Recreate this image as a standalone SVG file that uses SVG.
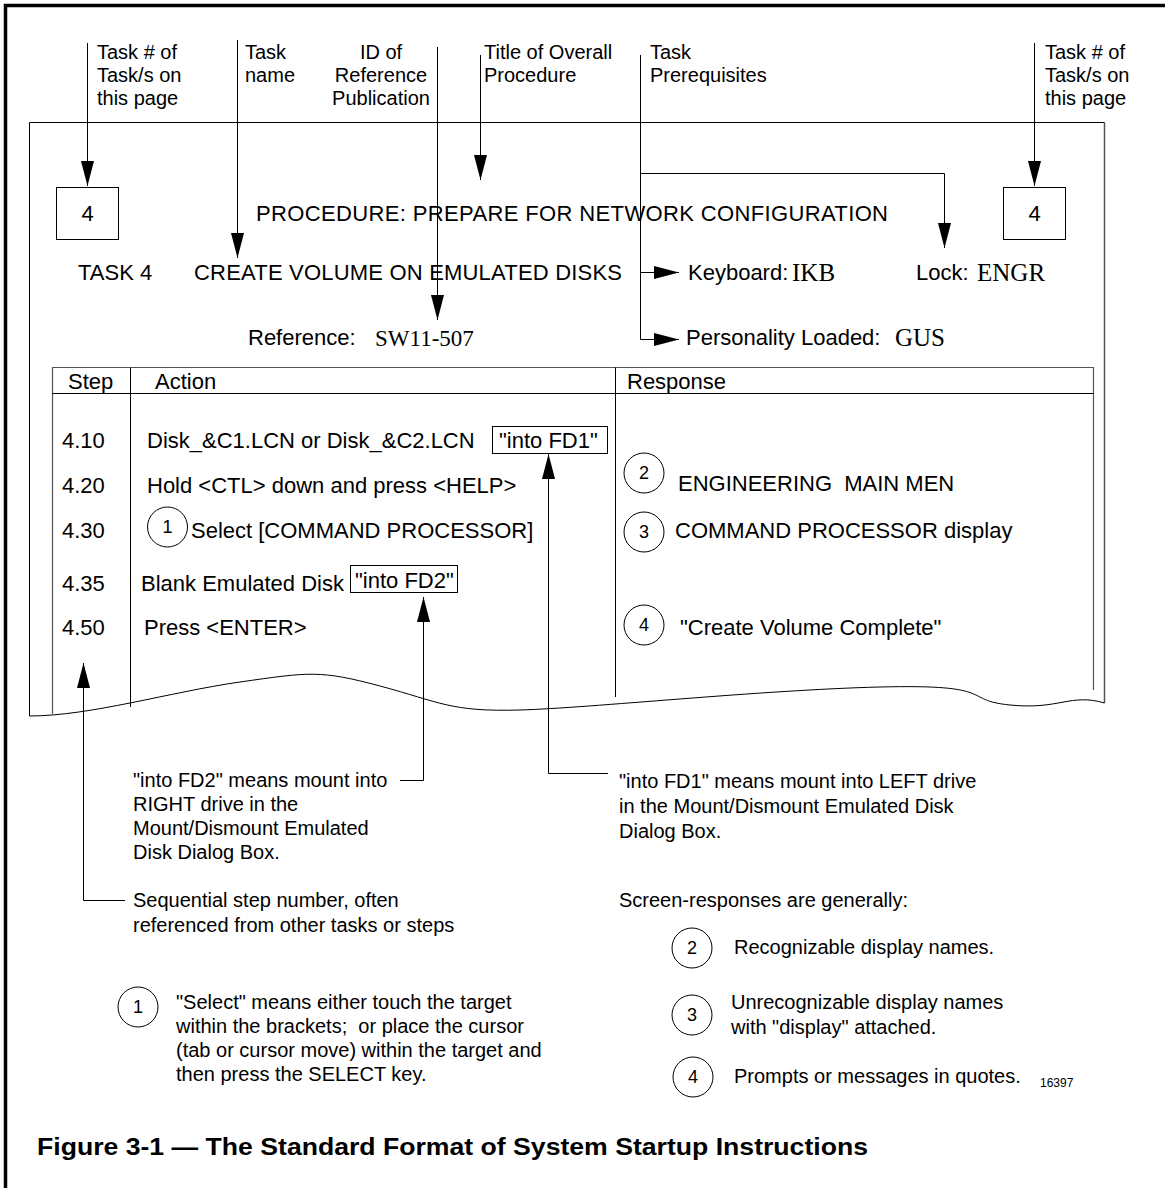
<svg xmlns="http://www.w3.org/2000/svg" width="1165" height="1188" viewBox="0 0 1165 1188">
<style>
  text { font-family: "Liberation Sans", Arial, sans-serif; fill: #000; }
  .b { font-size: 22px; }
  .l { font-size: 20px; }
  .s { font-family: "Liberation Serif", "Times New Roman", serif; font-size: 25px; }
  .n { font-size: 18px; text-anchor: middle; }
  .cap { font-size: 23px; font-weight: bold; }
  .pre { white-space: pre; }
  .ln { fill: none; stroke: #000; stroke-width: 1; }
  .gr { fill: none; stroke: #555; stroke-width: 1.2; }
  .bx { fill: #fff; stroke: #000; stroke-width: 1; }
  .cir { fill: #fff; stroke: #000; stroke-width: 1; }
  .con { fill: none; stroke: #000; stroke-width: 1; marker-end: url(#ah); }
</style>
<defs>
  <marker id="ah" markerUnits="userSpaceOnUse" markerWidth="25" markerHeight="13" refX="25" refY="6.5" orient="auto">
    <path d="M0,0 L25,6.5 L0,13 z" fill="#000"/>
  </marker>
</defs>
<rect width="1165" height="1188" fill="#fff"/>

<g id="frame">
  <path d="M5.5,1188 V5.5 H1165" fill="none" stroke="#000" stroke-width="3.5"/>
</g>

<g id="page">
  <path d="M29.5,716 V122.5 H1104.5" class="ln"/>
  <path d="M1104.5,122.5 V703" fill="none" stroke="#555" stroke-width="1.5"/>
  <path d="M29.5,716 C90,716 170,692 240,682 S320,670 380,686 S450,712 520,710 S760,690 880,687 S960,700 1010,705 S1070,693 1104.5,703" class="ln"/>
</g>

<g id="labels">
  <text class="l" x="97" y="59">Task # of</text>
  <text class="l" x="97" y="82">Task/s on</text>
  <text class="l" x="97" y="105">this page</text>
  <text class="l" x="245" y="59">Task</text>
  <text class="l" x="245" y="82">name</text>
  <text class="l" x="381" y="59" text-anchor="middle">ID of</text>
  <text class="l" x="381" y="82" text-anchor="middle">Reference</text>
  <text class="l" x="381" y="105" text-anchor="middle">Publication</text>
  <text class="l" x="484" y="59">Title of Overall</text>
  <text class="l" x="484" y="82">Procedure</text>
  <text class="l" x="650" y="59">Task</text>
  <text class="l" x="650" y="82">Prerequisites</text>
  <text class="l" x="1045" y="59">Task # of</text>
  <text class="l" x="1045" y="82">Task/s on</text>
  <text class="l" x="1045" y="105">this page</text>
</g>

<g id="task-box-left">
  <rect class="bx" x="56.5" y="187.5" width="62" height="52"/>
  <text class="b" x="87.5" y="221" text-anchor="middle">4</text>
</g>
<g id="task-box-right">
  <rect class="bx" x="1003.5" y="187.5" width="62" height="52"/>
  <text class="b" x="1034.5" y="221" text-anchor="middle">4</text>
</g>

<g id="connectors">
  <path class="con" d="M87.5,43 V186"/>
  <path class="con" d="M237.5,40 V258"/>
  <path class="con" d="M437.5,47 V320"/>
  <path class="con" d="M480.5,55 V180"/>
  <path class="con" d="M640.5,55 V339.5 H679"/>
  <path class="con" d="M640.5,173.5 H944.5 V248"/>
  <path class="con" d="M640.5,272.5 H679"/>
  <path class="con" d="M1034.5,43 V186"/>
  <path class="con" d="M608,773.5 H548.5 V454"/>
  <path class="con" d="M400,780.5 H423.5 V597"/>
  <path class="con" d="M125,900.5 H83.5 V663"/>
</g>

<g id="header">
  <text class="b" x="256" y="221" textLength="632">PROCEDURE: PREPARE FOR NETWORK CONFIGURATION</text>
  <text class="b" x="78" y="280">TASK 4</text>
  <text class="b" x="194" y="280" textLength="428">CREATE VOLUME ON EMULATED DISKS</text>
  <text class="b" x="688" y="280">Keyboard:<tspan class="s" x="792" y="281">IKB</tspan></text>
  <text class="b" x="916" y="280">Lock:<tspan class="s" x="977" y="281">ENGR</tspan></text>
  <text class="b" x="248" y="345">Reference:<tspan class="s" x="375" y="346" style="font-size:23px">SW11-507</tspan></text>
  <text class="b" x="686" y="345">Personality Loaded:<tspan class="s" x="895" y="346">GUS</tspan></text>
</g>

<g id="table">
  <path class="gr" d="M52.5,714 V367.5 H1093.5 V690"/>
  <path class="ln" d="M52.5,393.5 H1093.5"/>
  <path class="ln" d="M130.5,367.5 V707"/>
  <path class="ln" d="M615.5,367.5 V697"/>
  <text class="b" x="68" y="389">Step</text>
  <text class="b" x="155" y="389">Action</text>
  <text class="b" x="627" y="389">Response</text>
</g>

<g id="row-4-10">
  <text class="b" x="62" y="448">4.10</text>
  <text class="b" x="147" y="448">Disk_&amp;C1.LCN or Disk_&amp;C2.LCN</text>
  <rect class="bx" x="492.5" y="426.5" width="115" height="27"/>
  <text class="b" x="499" y="448">"into FD1"</text>
</g>
<g id="row-4-20">
  <text class="b" x="62" y="493">4.20</text>
  <text class="b" x="147" y="493">Hold &lt;CTL&gt; down and press &lt;HELP&gt;</text>
  <ellipse class="cir" cx="644" cy="473" rx="20" ry="20"/>
  <text class="n" x="644" y="479">2</text>
  <text class="b pre" x="678" y="491" xml:space="preserve">ENGINEERING  MAIN MEN</text>
</g>
<g id="row-4-30">
  <text class="b" x="62" y="538">4.30</text>
  <ellipse class="cir" cx="167.5" cy="527" rx="20" ry="20"/>
  <text class="n" x="167.5" y="533">1</text>
  <text class="b" x="191" y="538">Select [COMMAND PROCESSOR]</text>
  <ellipse class="cir" cx="644" cy="532" rx="20" ry="20"/>
  <text class="n" x="644" y="538">3</text>
  <text class="b" x="675" y="538">COMMAND PROCESSOR display</text>
</g>
<g id="row-4-35">
  <text class="b" x="62" y="591">4.35</text>
  <text class="b" x="141" y="591">Blank Emulated Disk</text>
  <rect class="bx" x="350.5" y="565.5" width="107" height="27"/>
  <text class="b" x="355" y="588">"into FD2"</text>
</g>
<g id="row-4-50">
  <text class="b" x="62" y="635">4.50</text>
  <text class="b" x="144" y="635">Press &lt;ENTER&gt;</text>
  <ellipse class="cir" cx="644" cy="625" rx="20" ry="20"/>
  <text class="n" x="644" y="631">4</text>
  <text class="b" x="680" y="635">"Create Volume Complete"</text>
</g>

<g id="note-fd2">
  <text class="l" x="133" y="787">"into FD2" means mount into</text>
  <text class="l" x="133" y="811">RIGHT drive in the</text>
  <text class="l" x="133" y="835">Mount/Dismount Emulated</text>
  <text class="l" x="133" y="859">Disk Dialog Box.</text>
</g>
<g id="note-fd1">
  <text class="l" x="619" y="788">"into FD1" means mount into LEFT drive</text>
  <text class="l" x="619" y="813">in the Mount/Dismount Emulated Disk</text>
  <text class="l" x="619" y="838">Dialog Box.</text>
</g>
<g id="note-step">
  <text class="l" x="133" y="907">Sequential step number, often</text>
  <text class="l" x="133" y="932">referenced from other tasks or steps</text>
</g>
<g id="note-select">
  <ellipse class="cir" cx="138" cy="1007" rx="20" ry="20"/>
  <text class="n" x="138" y="1013">1</text>
  <text class="l" x="176" y="1009">"Select" means either touch the target</text>
  <text class="l pre" x="176" y="1033" xml:space="preserve">within the brackets;  or place the cursor</text>
  <text class="l" x="176" y="1057">(tab or cursor move) within the target and</text>
  <text class="l" x="176" y="1081">then press the SELECT key.</text>
</g>
<g id="note-responses">
  <text class="l" x="619" y="907">Screen-responses are generally:</text>
  <ellipse class="cir" cx="692" cy="948" rx="20" ry="20"/>
  <text class="n" x="692" y="954">2</text>
  <text class="l" x="734" y="954">Recognizable display names.</text>
  <ellipse class="cir" cx="692" cy="1015" rx="20" ry="20"/>
  <text class="n" x="692" y="1021">3</text>
  <text class="l" x="731" y="1009">Unrecognizable display names</text>
  <text class="l" x="731" y="1034">with "display" attached.</text>
  <ellipse class="cir" cx="693" cy="1077" rx="20" ry="20"/>
  <text class="n" x="693" y="1083">4</text>
  <text class="l" x="734" y="1083">Prompts or messages in quotes.</text>
  <text x="1040" y="1087" style="font-size:12px">16397</text>
</g>

<g id="caption">
  <text class="cap" x="37" y="1155" textLength="831" lengthAdjust="spacingAndGlyphs">Figure 3-1 — The Standard Format of System Startup Instructions</text>
</g>
</svg>
